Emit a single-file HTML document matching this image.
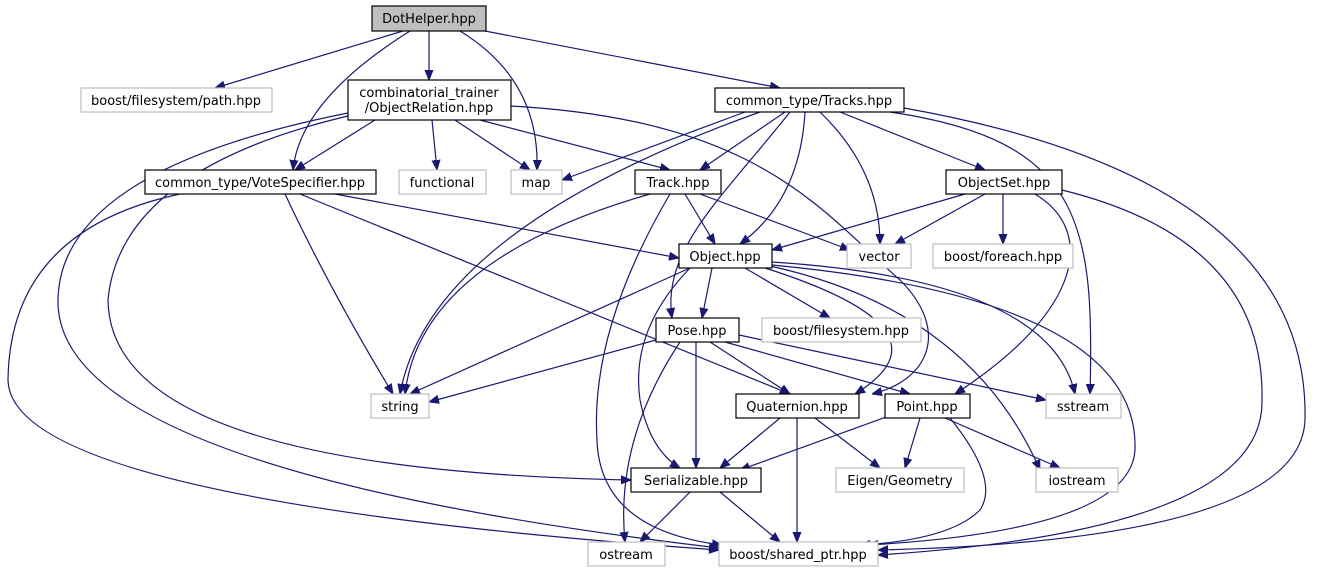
<!DOCTYPE html>
<html><head><meta charset="utf-8"><style>
html,body{margin:0;padding:0;background:#fff;}
svg{display:block;}
text{font-family:"DejaVu Sans","Liberation Sans",sans-serif;font-size:13px;fill:#000;}
.e{fill:none;stroke:#191970;stroke-width:1.2;}
.n{fill:#fff;stroke:#000;stroke-width:1.2;}
.g{fill:#fff;stroke:#bfbfbf;stroke-width:1.2;}
</style></head><body>
<svg width="1319" height="575" viewBox="0 0 1319 575" xmlns="http://www.w3.org/2000/svg">
<defs><marker id="a" viewBox="0 0 10 10" refX="10" refY="5" markerWidth="10" markerHeight="10" markerUnits="userSpaceOnUse" orient="auto"><path d="M0,1 L10,5 L0,9 z" fill="#191970" stroke="#191970"/></marker></defs>
<g marker-end="url(#a)">
<path class="e" d="M403,31 L215,88"/>
<path class="e" d="M429,31 L429,80"/>
<path class="e" d="M410,31 Q300,100 293,170"/>
<path class="e" d="M460,31 Q540,80 537,170"/>
<path class="e" d="M485,31 L780,88"/>
<path class="e" d="M375,120 L295,170"/>
<path class="e" d="M432,120 L437,170"/>
<path class="e" d="M455,120 L530,170"/>
<path class="e" d="M480,120 L670,170"/>
<path class="e" d="M348,116 Q120,170 108,300 Q110,470 631,480"/>
<path class="e" d="M348,113 Q60,170 58,300 Q55,470 719,548"/>
<path class="e" d="M511,106 C760,120 820,210 900,280 C950,330 930,380 872,394"/>
<path class="e" d="M745,112 L562,180"/>
<path class="e" d="M760,112 Q430,230 400,394"/>
<path class="e" d="M785,112 L700,170"/>
<path class="e" d="M790,112 C720,200 662,250 672,318"/>
<path class="e" d="M805,112 Q800,200 740,244"/>
<path class="e" d="M820,112 Q880,170 880,244"/>
<path class="e" d="M840,112 L985,170"/>
<path class="e" d="M890,112 C1080,140 1095,220 1090,394"/>
<path class="e" d="M904,108 Q1310,180 1305,420 Q1300,540 878,550"/>
<path class="e" d="M180,194 Q10,230 8,380 Q10,500 719,550"/>
<path class="e" d="M285,194 Q330,290 393,394"/>
<path class="e" d="M300,194 Q560,300 790,394"/>
<path class="e" d="M335,194 L679,258"/>
<path class="e" d="M650,194 Q420,260 405,394"/>
<path class="e" d="M685,194 L715,244"/>
<path class="e" d="M700,194 L850,250"/>
<path class="e" d="M670,194 Q590,330 597,440 Q600,530 722,545"/>
<path class="e" d="M965,194 L772,250"/>
<path class="e" d="M985,194 L895,244"/>
<path class="e" d="M1003,194 L1003,244"/>
<path class="e" d="M1035,194 C1095,230 1085,310 955,394"/>
<path class="e" d="M1062,190 Q1265,240 1262,400 Q1265,530 878,555"/>
<path class="e" d="M690,268 L410,394"/>
<path class="e" d="M712,268 L702,318"/>
<path class="e" d="M745,268 L830,318"/>
<path class="e" d="M690,268 Q630,330 640,400 Q650,450 680,468"/>
<path class="e" d="M772,262 Q1050,280 1075,394"/>
<path class="e" d="M770,266 Q970,310 1040,470"/>
<path class="e" d="M765,268 Q960,330 855,394"/>
<path class="e" d="M772,265 Q1140,300 1135,450 Q1130,530 868,545"/>
<path class="e" d="M656,340 L429,402"/>
<path class="e" d="M680,342 Q615,440 625,542"/>
<path class="e" d="M696,342 L696,468"/>
<path class="e" d="M710,342 L790,394"/>
<path class="e" d="M725,342 L910,394"/>
<path class="e" d="M739,335 L1046,400"/>
<path class="e" d="M780,418 L720,468"/>
<path class="e" d="M797,418 L797,542"/>
<path class="e" d="M815,418 L880,468"/>
<path class="e" d="M900,412 L740,470"/>
<path class="e" d="M920,418 L905,468"/>
<path class="e" d="M945,418 L1060,468"/>
<path class="e" d="M950,418 Q1000,480 980,510 Q950,540 860,545"/>
<path class="e" d="M690,492 L640,542"/>
<path class="e" d="M720,492 L780,542"/>
</g>
<rect x="372" y="6" width="114" height="25" fill="#bfbfbf" stroke="#000" stroke-width="1.2"/><text x="429" y="23" text-anchor="middle">DotHelper.hpp</text>
<rect class="g" x="81" y="88" width="191" height="24"/><text x="176" y="105" text-anchor="middle">boost/filesystem/path.hpp</text>
<rect class="n" x="348" y="80" width="163" height="40"/><text x="429" y="97" text-anchor="middle">combinatorial_trainer</text><text x="429" y="112" text-anchor="middle">/ObjectRelation.hpp</text>
<rect class="n" x="715" y="88" width="189" height="24"/><text x="809" y="105" text-anchor="middle">common_type/Tracks.hpp</text>
<rect class="n" x="145" y="170" width="231" height="24"/><text x="260" y="187" text-anchor="middle">common_type/VoteSpecifier.hpp</text>
<rect class="g" x="399" y="170" width="87" height="24"/><text x="442" y="187" text-anchor="middle">functional</text>
<rect class="g" x="511" y="170" width="51" height="24"/><text x="536" y="187" text-anchor="middle">map</text>
<rect class="n" x="635" y="170" width="86" height="24"/><text x="678" y="187" text-anchor="middle">Track.hpp</text>
<rect class="n" x="946" y="170" width="116" height="24"/><text x="1004" y="187" text-anchor="middle">ObjectSet.hpp</text>
<rect class="n" x="679" y="244" width="93" height="24"/><text x="725" y="261" text-anchor="middle">Object.hpp</text>
<rect class="g" x="847" y="244" width="64" height="24"/><text x="879" y="261" text-anchor="middle">vector</text>
<rect class="g" x="933" y="244" width="140" height="24"/><text x="1003" y="261" text-anchor="middle">boost/foreach.hpp</text>
<rect class="n" x="656" y="318" width="83" height="24"/><text x="697" y="335" text-anchor="middle">Pose.hpp</text>
<rect class="g" x="762" y="318" width="159" height="24"/><text x="841" y="335" text-anchor="middle">boost/filesystem.hpp</text>
<rect class="g" x="371" y="394" width="58" height="24"/><text x="400" y="411" text-anchor="middle">string</text>
<rect class="n" x="736" y="394" width="123" height="24"/><text x="797" y="411" text-anchor="middle">Quaternion.hpp</text>
<rect class="n" x="885" y="394" width="85" height="24"/><text x="927" y="411" text-anchor="middle">Point.hpp</text>
<rect class="g" x="1046" y="394" width="75" height="24"/><text x="1083" y="411" text-anchor="middle">sstream</text>
<rect class="n" x="631" y="468" width="130" height="24"/><text x="696" y="485" text-anchor="middle">Serializable.hpp</text>
<rect class="g" x="836" y="468" width="128" height="24"/><text x="900" y="485" text-anchor="middle">Eigen/Geometry</text>
<rect class="g" x="1036" y="468" width="82" height="24"/><text x="1077" y="485" text-anchor="middle">iostream</text>
<rect class="g" x="588" y="542" width="77" height="24"/><text x="626" y="559" text-anchor="middle">ostream</text>
<rect class="g" x="719" y="542" width="159" height="24"/><text x="798" y="559" text-anchor="middle">boost/shared_ptr.hpp</text>
</svg>
</body></html>
